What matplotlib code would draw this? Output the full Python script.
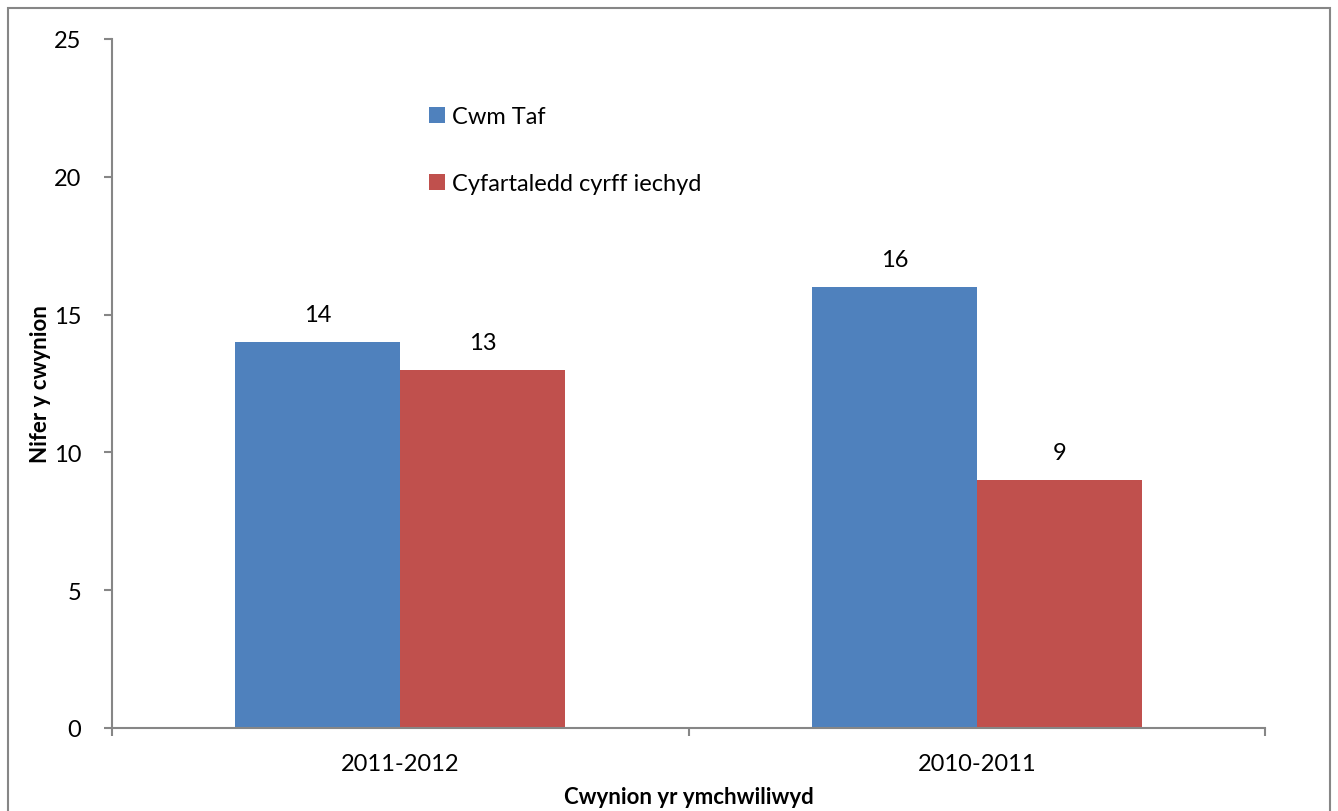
import matplotlib.pyplot as plt
import numpy as np
from matplotlib.patches import Rectangle

plt.rcParams['font.family'] = ['Lato', 'DejaVu Sans']

# Complaint counts per year
years = ['2011-2012', '2010-2011']
cwm_taf = [14, 16]
average = [13, 9]
series_names = ['Cwm Taf', 'Cyfartaledd cyrff iechyd']
colors = ['#4F81BD', '#C0504D']
axis_grey = '#868686'

fig = plt.figure(figsize=(13.38, 8.12), dpi=100)
ax = fig.add_axes([112 / 1338, 1 - 729 / 812, (1265 - 112) / 1338, (729 - 40) / 812])

# Outer chart frame
fig.patches.append(Rectangle((8 / 1338, -0.05), (1330 - 8) / 1338, 1 - 9 / 812 + 0.05,
                             transform=fig.transFigure, fill=False,
                             edgecolor=axis_grey, linewidth=1.5))

x = np.arange(len(years))
w = 0.286
bars1 = ax.bar(x - w / 2, cwm_taf, w, color=colors[0], label=series_names[0])
bars2 = ax.bar(x + w / 2, average, w, color=colors[1], label=series_names[1])

for bars, vals in [(bars1, cwm_taf), (bars2, average)]:
    for b, v in zip(bars, vals):
        ax.annotate(str(v), (b.get_x() + b.get_width() / 2, v), xytext=(0, 12),
                    textcoords='offset points', ha='center', va='bottom', fontsize=17)

ax.set_xlim(-0.5, 1.5)
ax.set_ylim(0, 25)
ax.set_yticks(range(0, 26, 5))
ax.set_xticks([-0.5, 0.5, 1.5], minor=False)
ax.set_xticklabels([])
ax.set_xticks(x, minor=True)
ax.set_xticklabels(years, minor=True)
ax.tick_params(axis='x', which='minor', length=0, pad=18, labelsize=17)
ax.tick_params(axis='x', which='major', length=6, width=1.5, color=axis_grey)
ax.tick_params(axis='y', length=6, width=1.5, color=axis_grey, labelsize=17, pad=16)

for side in ['top', 'right']:
    ax.spines[side].set_visible(False)
for side in ['left', 'bottom']:
    ax.spines[side].set_color(axis_grey)
    ax.spines[side].set_linewidth(1.5)

ax.set_ylabel('Nifer y cwynion', fontsize=16, fontweight='bold', va='center')
ax.yaxis.set_label_coords(-0.062, 0.5)
ax.set_xlabel('Cwynion yr ymchwiliwyd', fontsize=16, fontweight='bold', va='center')
ax.xaxis.set_label_coords(0.5, -0.1)

ax.legend(loc='upper left', bbox_to_anchor=(308 / 1153, 1 - 58 / 689), frameon=False,
          fontsize=17, handlelength=0.65, handleheight=0.65, handletextpad=0.3,
          labelspacing=1.95, borderaxespad=0)

fig.savefig('out.png', dpi=100)
